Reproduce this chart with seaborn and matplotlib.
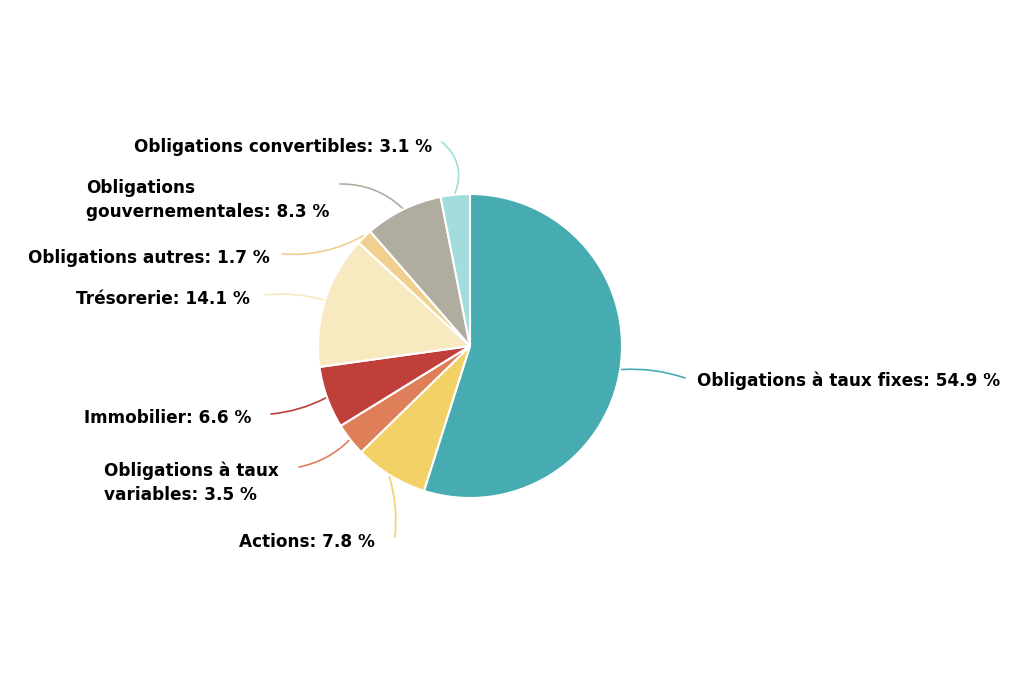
import numpy as np
import matplotlib
matplotlib.use('Agg')
import matplotlib.pyplot as plt
import seaborn as sns

# %% Data

categories = ['Obligations à taux fixes', 'Actions', 'Obligations à taux\nvariables',
              'Immobilier', 'Trésorerie', 'Obligations autres',
              'Obligations\ngouvernementales', 'Obligations convertibles']
shares = [54.9, 7.8, 3.5, 6.6, 14.1, 1.7, 8.3, 3.1]

# %% Style

sns.set_style('white')
plt.rcParams['font.family'] = ['DejaVu Sans']

colours = ['#47abb2', '#f2d166', '#df7f5a', '#c13f3a',
           '#f7e9c0', '#efd08f', '#b0ac9f', '#a2dcdc']

W, H = 1024, 683
fig = plt.figure(figsize=(W / 100, H / 100), dpi=100)
ax = fig.add_axes([0, 0, 1, 1])

#Pie geometry (pixel units, y up)
cx, cy, r = 470, H - 346, 152

wedges, _ = ax.pie(shares, colors=colours, startangle=90, counterclock=False,
                   center=(cx, cy), radius=r, frame=True,
                   wedgeprops=dict(edgecolor='white', linewidth=1.5))
ax.set_xlim(0, W)
ax.set_ylim(0, H)
ax.set_aspect('equal')
ax.axis('off')

#Label layout (image px from top-left): text anchor, alignment, connector end
label_xy = [(697, 381), (375, 542), (104, 483), (251, 418),
            (250, 299), (270, 258), (86, 200), (432, 147)]
label_ha = ['left', 'right', 'left', 'right', 'right', 'right', 'left', 'right']
line_end = [(685, 378), (395, 537), (299, 467), (271, 414),
            (265, 295), (282, 254), (340, 184), (442, 142)]
line_rad = [0.1, 0.1, 0.15, 0.1, -0.1, 0.15, -0.2, -0.35]

cum = np.cumsum([0] + shares[:-1])
for i, (cat, val) in enumerate(zip(categories, shares)):
    theta = np.deg2rad(90 - 360 * (cum[i] + val / 2) / 100)
    ex = cx + r * 1.01 * np.cos(theta)
    ey = cy + r * 1.01 * np.sin(theta)
    lx, ly = line_end[i]
    ax.annotate('', xy=(ex, ey), xytext=(lx, H - ly),
                arrowprops=dict(arrowstyle='-', color=colours[i], lw=1.2,
                                shrinkA=0, shrinkB=0,
                                connectionstyle='arc3,rad={}'.format(line_rad[i])))
    tx, ty = label_xy[i]
    ax.text(tx, H - ty, '{}: {:.1f} %'.format(cat, val), ha=label_ha[i],
            va='center', fontsize=12.2, fontweight='bold', color='black',
            linespacing=1.4, multialignment='left')

fig.savefig('out.png', dpi=100, facecolor='white')
